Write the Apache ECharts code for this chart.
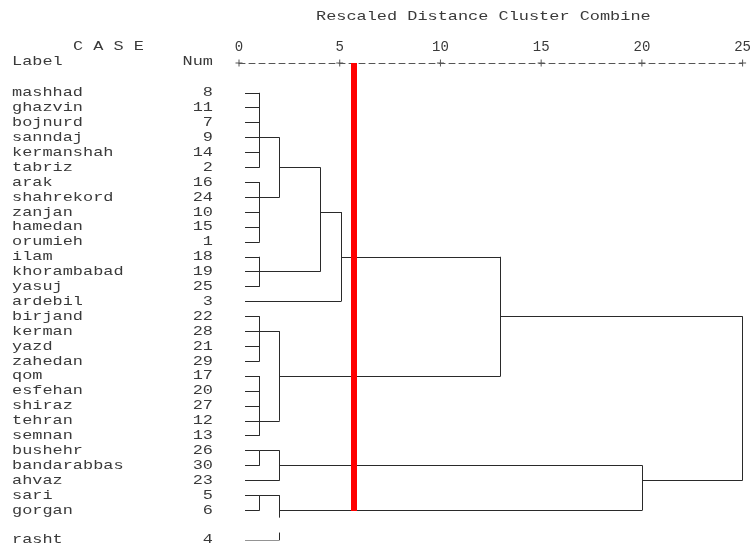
<!DOCTYPE html>
<html>
<head>
<meta charset="utf-8">
<script src="https://cdn.jsdelivr.net/npm/echarts@6/dist/echarts.min.js"></script>
<style>
html,body{margin:0;padding:0;background:#fff;}
#chart{width:754px;height:546px;}
</style>
</head>
<body>
<div id="chart"></div>
<script>
// ---- data ----
const caseNames = ['mashhad','ghazvin','bojnurd','sanndaj','kermanshah','tabriz','arak','shahrekord','zanjan','hamedan','orumieh','ilam','khorambabad','yasuj','ardebil','birjand','kerman','yazd','zahedan','qom','esfehan','shiraz','tehran','semnan','bushehr','bandarabbas','ahvaz','sari','gorgan','rasht'];
const caseNums = [8,11,7,9,14,2,16,24,10,15,1,18,19,25,3,22,28,21,29,17,20,27,12,13,26,30,23,5,6,4];
const pageBreakBefore = 29; // output page break before this case (blank row)
const mergeChildren = [
  ['L0','L1','L2','L3','L4','L5'],
  ['L6','L7','L8','L9','L10'],
  ['C0','C1'],
  ['L11','L12','L13'],
  ['C2','C3'],
  ['C4','L14'],
  ['L15','L16','L17','L18'],
  ['L19','L20','L21','L22','L23'],
  ['C6','C7'],
  ['C5','C8'],
  ['L24','L25'],
  ['C10','L26'],
  ['L27','L28'],
  ['C12','L29'],
  ['C11','C13'],
  ['C9','C14']
];
const mergeHeights = [1.03,1.03,2.02,1.03,4.04,5.07,1.03,1.03,2.02,12.99,1.03,2.02,1.03,2.02,20.03,25];
const mergeExitCase = [3,7,5,12,8,11,16,22,19,15,24,25,27,28,26,null];
const axisTicks = [0,5,10,15,20,25];
const cutDistance = 5.7;
const titleText = 'Rescaled Distance Cluster Combine';

// ---- layout helpers ----
const leafStart = 0.3;
const caseRow = i => (i < pageBreakBefore ? i : i + 1);
const breakRow = pageBreakBefore;

function nodeInfo(ref){
  if (ref[0] === 'L'){ const i = +ref.slice(1); return {h: leafStart, row: caseRow(i)}; }
  const c = +ref.slice(1);
  return {h: mergeHeights[c], row: mergeExitCase[c] == null ? null : caseRow(mergeExitCase[c])};
}
const segs = [];
mergeChildren.forEach((kids, c) => {
  const h = mergeHeights[c];
  const rs = [];
  kids.forEach(k => {
    const n = nodeInfo(k);
    segs.push({coords: [[n.h, n.row], [h, n.row]]});
    rs.push(n.row);
  });
  const r0 = Math.min(...rs), r1 = Math.max(...rs);
  if (r0 < breakRow && r1 > breakRow){
    segs.push({coords: [[h, r0], [h, breakRow - 0.5]]});
    segs.push({coords: [[h, breakRow + 0.5], [h, r1]]});
  } else {
    segs.push({coords: [[h, r0], [h, r1]]});
  }
});

const FONT = '13px "Liberation Mono", monospace';
const SX = 1.3;
const TXT = '#3a3a3a';
const labelData = caseNames.map((n, i) => [0, caseRow(i), i]);

const chart = echarts.init(document.getElementById('chart'));
chart.setOption({
  animation: false,
  backgroundColor: '#fff',
  grid: {left: 239, right: 7, top: 63, bottom: 6},
  xAxis: {
    type: 'value', position: 'top', min: 0, max: 25, interval: 5,
    axisLine: {show: true, onZero: false, lineStyle: {color: '#555', width: 1, type: [6, 4]}},
    axisTick: {show: false},
    splitLine: {show: false},
    axisLabel: {margin: 9, fontFamily: 'Liberation Mono', fontSize: 14, color: TXT}
  },
  yAxis: {type: 'value', inverse: true, min: -2, max: 30, show: false},
  graphic: [
    {type: 'text', x: 316, y: 17, scaleX: SX, style: {text: titleText, font: FONT, fill: TXT, align: 'left', verticalAlign: 'middle'}},
    {type: 'text', x: 73, y: 47, scaleX: SX, style: {text: 'C A S E', font: FONT, fill: TXT, align: 'left', verticalAlign: 'middle'}},
    {type: 'text', x: 12, y: 62, scaleX: SX, style: {text: 'Label', font: FONT, fill: TXT, align: 'left', verticalAlign: 'middle'}},
    {type: 'text', x: 213, y: 62, scaleX: SX, style: {text: 'Num', font: FONT, fill: TXT, align: 'right', verticalAlign: 'middle'}}
  ],
  series: [
    {
      type: 'lines', coordinateSystem: 'cartesian2d', polyline: false, silent: true,
      lineStyle: {color: '#2a2a2a', width: 1, opacity: 1},
      data: segs, z: 2
    },
    {
      type: 'lines', coordinateSystem: 'cartesian2d', polyline: false, silent: true,
      lineStyle: {color: '#ff0000', width: 6, opacity: 1},
      data: [{coords: [[cutDistance, -2], [cutDistance, caseRow(28) + 0.05]]}], z: 5
    },
    {
      type: 'custom', silent: true, clip: false,
      data: axisTicks.map(t => [t, -2]),
      renderItem: (params, api) => {
        const p = api.coord([api.value(0), api.value(1)]);
        return {type: 'group', children: [
          {type: 'line', shape: {x1: p[0] - 3.5, y1: p[1], x2: p[0] + 3.5, y2: p[1]}, style: {stroke: '#555', lineWidth: 1}},
          {type: 'line', shape: {x1: p[0], y1: p[1] - 3.5, x2: p[0], y2: p[1] + 3.5}, style: {stroke: '#555', lineWidth: 1}}
        ]};
      }, z: 3
    },
    {
      type: 'custom', silent: true, clip: false,
      data: labelData,
      renderItem: (params, api) => {
        const idx = api.value(2);
        const y = api.coord([0, api.value(1)])[1];
        return {type: 'group', children: [
          {type: 'text', x: 12, y: y, scaleX: SX, style: {text: caseNames[idx], font: FONT, fill: TXT, align: 'left', verticalAlign: 'middle'}},
          {type: 'text', x: 213, y: y, scaleX: SX, style: {text: String(caseNums[idx]), font: FONT, fill: TXT, align: 'right', verticalAlign: 'middle'}}
        ]};
      }, z: 3
    }
  ]
});
</script>
</body>
</html>
